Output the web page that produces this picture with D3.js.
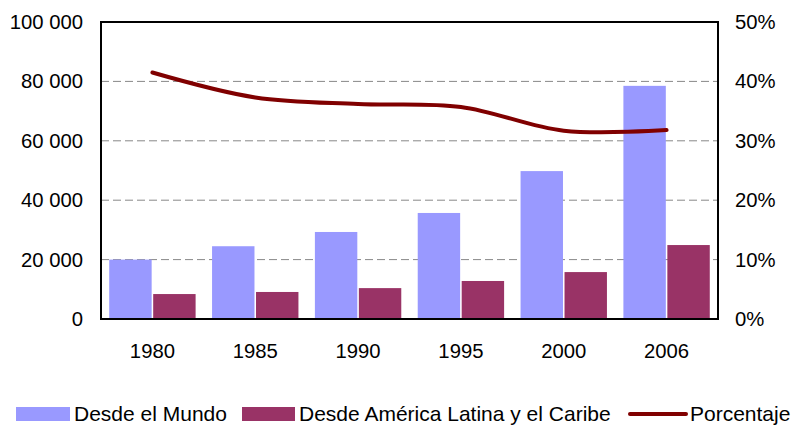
<!DOCTYPE html>
<html lang="es">
  <head>
    <meta charset="utf-8">
    <script src="https://cdn.jsdelivr.net/npm/d3@7"></script>
    <style>
      body { margin: 0; background: #fff; }
      text { font-family: "Liberation Sans", Arial, sans-serif; fill: #000; }
    </style>
  </head>
  <body>
    <svg id="chart"></svg>
  </body>
  <script>
    var width = 792;
    var height = 425;

    // data
    var years = ["1980", "1985", "1990", "1995", "2000", "2006"];
    var mundo = [20000, 24500, 29300, 35700, 49800, 78500];
    var latam = [8400, 9100, 10400, 12800, 15800, 24900];
    var porcentaje = [0.415, 0.373, 0.362, 0.357, 0.317, 0.318];
    var leftTicks = [0, 20000, 40000, 60000, 80000, 100000];
    var rightTicks = [0, 0.1, 0.2, 0.3, 0.4, 0.5];
    var seriesNames = ["Desde el Mundo", "Desde América Latina y el Caribe", "Porcentaje"];
    var colors = ["#9999ff", "#993366", "#800000"];

    var plot = {left: 101, right: 718, top: 22, bottom: 319};

    var svg = d3.select("#chart").attr("width", width).attr("height", height);

    var x = d3.scaleBand()
      .domain(years)
      .range([plot.left, plot.right])
      .paddingInner(0.16)
      .paddingOuter(0.08);

    var x1 = d3.scaleBand()
      .domain([0, 1])
      .range([0, x.bandwidth()])
      .paddingInner(0.035);

    var y = d3.scaleLinear().domain([0, 100000]).range([plot.bottom, plot.top]);
    var y2 = d3.scaleLinear().domain([0, 0.5]).range([plot.bottom, plot.top]);

    // dashed gridlines
    svg.append("g").selectAll("line")
      .data(leftTicks.filter(function(d){ return d > 0 && d < 100000; }))
      .enter().append("line")
      .attr("x1", plot.left).attr("x2", plot.right)
      .attr("y1", function(d){ return y(d); })
      .attr("y2", function(d){ return y(d); })
      .attr("stroke", "#888")
      .attr("stroke-width", 1)
      .attr("stroke-dasharray", "8,4");

    // bars
    var groups = years.map(function(yr, i){ return {year: yr, vals: [mundo[i], latam[i]]}; });
    svg.append("g").selectAll("g")
      .data(groups).enter()
      .append("g")
      .attr("transform", function(d){ return "translate(" + x(d.year) + ",0)"; })
      .selectAll("rect")
      .data(function(d){ return d.vals; }).enter()
      .append("rect")
      .attr("x", function(d, i){ return x1(i); })
      .attr("y", function(d){ return y(d); })
      .attr("width", x1.bandwidth())
      .attr("height", function(d){ return y(0) - y(d); })
      .attr("fill", function(d, i){ return colors[i]; });

    // percentage line
    var line = d3.line()
      .x(function(d, i){ return x(years[i]) + x.bandwidth() / 2; })
      .y(function(d){ return y2(d); })
      .curve(d3.curveCatmullRom.alpha(0.5));

    svg.append("path")
      .datum(porcentaje)
      .attr("d", line)
      .attr("fill", "none")
      .attr("stroke", colors[2])
      .attr("stroke-width", 4)
      .attr("stroke-linecap", "round");

    // plot frame
    svg.append("rect")
      .attr("x", plot.left).attr("y", plot.top)
      .attr("width", plot.right - plot.left)
      .attr("height", plot.bottom - plot.top)
      .attr("fill", "none")
      .attr("stroke", "#000")
      .attr("stroke-width", 2);

    // axes
    var yAxis = d3.axisLeft(y)
      .tickValues(leftTicks)
      .tickSize(0).tickPadding(18)
      .tickFormat(function(d){ return d3.format(",")(d).replace(/,/g, " "); });
    var gl = svg.append("g").attr("transform", "translate(" + plot.left + ",0)").call(yAxis);

    var y2Axis = d3.axisRight(y2)
      .tickValues(rightTicks)
      .tickSize(0).tickPadding(17)
      .tickFormat(d3.format(".0%"));
    var gr = svg.append("g").attr("transform", "translate(" + plot.right + ",0)").call(y2Axis);

    var xAxis = d3.axisBottom(x).tickSize(0).tickPadding(25);
    var gx = svg.append("g").attr("transform", "translate(0," + plot.bottom + ")").call(xAxis);

    [gl, gr, gx].forEach(function(g){
      g.select(".domain").remove();
      g.selectAll("text").style("font-size", "20.3px").attr("fill", "#000")
        .style("font-family", "'Liberation Sans', Arial, sans-serif");
    });

    // legend
    var legend = svg.append("g").attr("transform", "translate(0,414)");
    var legendItems = [
      {x: 16, w: 54, type: "rect"},
      {x: 242, w: 53, type: "rect"},
      {x: 630, w: 56, type: "line"}
    ];
    legendItems.forEach(function(it, i){
      if (it.type === "rect") {
        legend.append("rect").attr("x", it.x).attr("y", -7)
          .attr("width", it.w).attr("height", 14).attr("fill", colors[i]);
      } else {
        legend.append("line").attr("x1", it.x).attr("x2", it.x + it.w)
          .attr("y1", 0).attr("y2", 0)
          .attr("stroke", colors[i]).attr("stroke-width", 4)
          .attr("stroke-linecap", "round");
      }
      legend.append("text")
        .attr("x", it.x + it.w + 4)
        .attr("y", 0)
        .attr("dy", "0.35em")
        .style("font-size", "21px")
        .text(seriesNames[i]);
    });
  </script>
</html>
